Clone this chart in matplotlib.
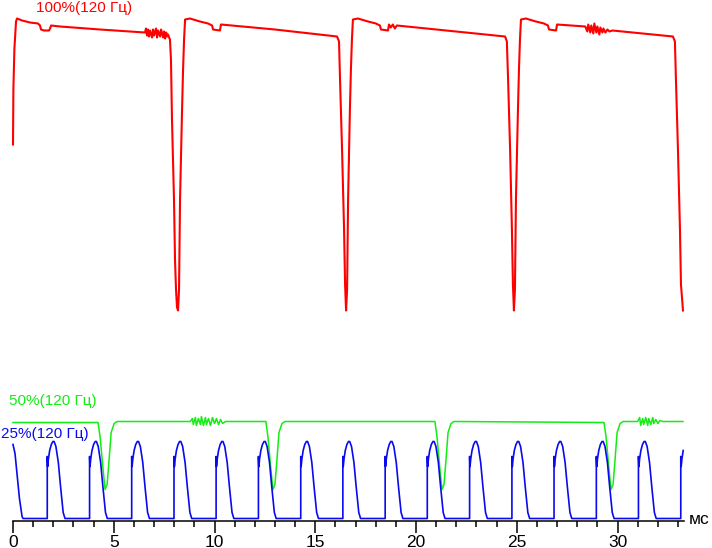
import numpy as np
import matplotlib as mpl
mpl.use('Agg')
import matplotlib.pyplot as plt
from matplotlib.ticker import MultipleLocator

# time in ms, level in arbitrary units (0 = dark)
red_t = [0.00, 0.02, 0.07, 0.15, 0.20, 0.45, 0.84, 1.24, 1.34, 1.39, 1.54, 1.79, 1.84, 1.89,
         2.33, 4.32, 6.55,
         6.60, 6.65, 6.70, 6.75, 6.80, 6.90, 6.95, 7.00, 7.10, 7.15, 7.20, 7.30, 7.35, 7.45,
         7.50, 7.55, 7.60, 7.65, 7.69,
         7.79, 7.84, 7.89, 7.99, 8.04, 8.09, 8.14, 8.19,
         8.24, 8.29, 8.39, 8.44, 8.49, 8.54, 8.78, 9.28, 9.68, 9.88, 9.93, 10.27, 10.32,
         13.00, 16.08, 16.18, 16.23, 16.33, 16.43, 16.48, 16.53,
         16.58, 16.63, 16.72, 16.77, 16.82, 16.87, 17.12, 17.62, 18.01, 18.21, 18.26, 18.61, 18.66,
         18.75, 18.85, 18.95, 19.05, 21.50, 24.42, 24.51, 24.57, 24.67, 24.76, 24.81, 24.86,
         24.91, 24.96, 25.06, 25.11, 25.16, 25.21, 25.45, 25.95, 26.35, 26.55, 26.60, 26.95, 27.00,
         28.40, 28.50, 28.55, 28.65, 28.70, 28.80, 28.85, 28.95, 29.00, 29.10, 29.15, 29.25,
         29.30, 29.40, 29.50, 29.60, 29.75,
         32.75, 32.85, 32.90, 33.00, 33.10, 33.15, 33.25]
red_y = [374, 430, 470, 497, 500, 498, 496, 495, 493, 489, 488, 488, 490, 493,
         492, 489, 486,
         490, 483, 489, 482, 488, 481, 489, 483, 490, 481, 488, 482, 489, 481,
         487, 480, 486, 482, 484,
         479, 459, 399, 319, 259, 229, 211, 208,
         229, 319, 409, 449, 479, 499, 500, 497, 495, 493, 489, 488, 494,
         489, 482, 477, 439, 369, 289, 234, 208,
         229, 319, 409, 449, 479, 499, 500, 497, 495, 493, 489, 488, 494,
         491, 494, 490, 493, 488, 482, 477, 439, 369, 289, 234, 208,
         229, 319, 409, 449, 479, 499, 500, 497, 495, 493, 489, 488, 494,
         492, 487, 494, 486, 493, 485, 495, 486, 492, 484, 491, 486,
         490, 486, 489, 487, 488,
         482, 477, 439, 369, 289, 234, 208]

green_t = [0.00, 4.22, 4.32, 4.47, 4.57, 4.67, 4.77, 4.87, 5.02, 5.17,
           8.80, 8.90, 8.95, 9.05, 9.10, 9.20, 9.30, 9.35, 9.45, 9.55, 9.60, 9.70, 9.80, 9.90,
           10.00, 10.10, 10.20, 10.30, 10.40, 10.55,
           12.55, 12.65, 12.80, 12.90, 13.00, 13.10, 13.20, 13.35, 13.50,
           20.94, 21.04, 21.19, 21.29, 21.39, 21.49, 21.59, 21.74, 21.89,
           29.33, 29.43, 29.58, 29.68, 29.78, 29.88, 29.98, 30.13, 30.28,
           31.00, 31.10, 31.15, 31.25, 31.30, 31.40, 31.50, 31.55, 31.65, 31.75, 31.80, 31.90,
           32.00, 32.10, 32.25, 33.25]
green_y = [96, 96, 82, 49, 29, 34, 59, 86, 95, 97,
           97, 100, 94, 101, 93, 100, 94, 102, 93, 101, 94, 100, 93, 101,
           95, 100, 94, 99, 95, 97,
           97, 82, 49, 29, 34, 59, 86, 95, 97,
           97, 82, 49, 29, 34, 59, 86, 95, 97,
           96, 82, 49, 29, 34, 59, 86, 95, 97,
           97, 101, 93, 100, 94, 101, 93, 100, 94, 101, 95, 99,
           95, 98, 97, 97]

# 25%: PWM pulses
blue_head_t = [0.00, 0.10, 0.20, 0.32, 0.45, 0.50]
blue_head_y = [74, 65, 45, 20, 2, 0]
pulse_starts = [1.70, 3.80, 5.89, 7.99, 10.08, 12.18, 14.28, 16.37, 18.47, 20.56,
                22.66, 24.76, 26.85, 28.95, 31.04, 33.14]
pulse_dt = [0.00, 0.00, 0.02, 0.06, 0.12, 0.20, 0.28, 0.34, 0.43, 0.55, 0.66, 0.79, 0.88]
pulse_y = [0, 62, 52, 60, 68, 74, 77, 77, 72, 56, 32, 6, 0]
t_end = 33.27

bt = list(blue_head_t)
by = list(blue_head_y)
for s in pulse_starts:
    bt.append(s)
    by.append(0)
    for dt, v in zip(pulse_dt, pulse_y):
        if s + dt <= t_end:
            bt.append(s + dt)
            by.append(v)
blue_t = np.array(bt)
blue_y = np.array(by)

W, H = 712, 548
fig = plt.figure(figsize=(W / 100, H / 100), dpi=100)
ax = fig.add_axes([0, 0, 1, 1])
ax.set_xlim(-13 / 20.15, (W - 13) / 20.15)
ax.set_ylim(-29.5, 518.5)

ax.plot(red_t, red_y, color='#ff0000', lw=1.5)
ax.plot(green_t, green_y, color='#14ec14', lw=1.1)
ax.plot(blue_t, blue_y, color='#0a0aee', lw=1.2)

for s in ['left', 'right', 'top']:
    ax.spines[s].set_visible(False)
ax.spines['bottom'].set_position(('data', -2))
ax.spines['bottom'].set_bounds(0, 33.3)
ax.spines['bottom'].set_linewidth(1.1)
ax.set_yticks([])
ax.xaxis.set_major_locator(MultipleLocator(5))
ax.set_xticks(np.arange(0, 31, 5))
ax.set_xticks(np.arange(0, 34, 1), minor=True)
ax.tick_params(axis='x', which='major', direction='out', length=8.6, width=1.1,
               pad=1.5, labelsize=12.5)
ax.tick_params(axis='x', which='minor', direction='out', length=4.3, width=1.1)
for lab in ax.get_xticklabels():
    lab.set_family('Liberation Sans')

fig.text(689 / W, 1 - 520 / H, 'мс', fontsize=12.5, family='Liberation Sans', va='center')
fig.text(36 / W, 1 - 8 / H, '100%(120 Гц)', fontsize=11, family='Liberation Sans',
         color='#ff0000', va='center')
fig.text(9 / W, 1 - 401 / H, '50%(120 Гц)', fontsize=11, family='Liberation Sans',
         color='#14ec14', va='center')
fig.text(1 / W, 1 - 434 / H, '25%(120 Гц)', fontsize=11, family='Liberation Sans',
         color='#0a0aee', va='center')

fig.savefig('out.png', dpi=100)
